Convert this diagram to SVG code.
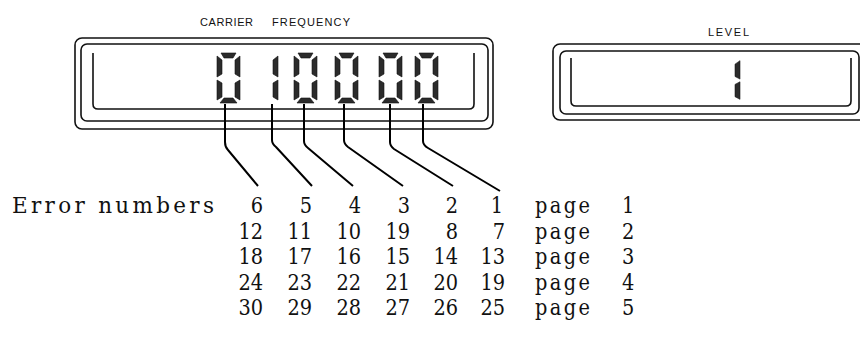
<svg xmlns="http://www.w3.org/2000/svg" xmlns:xlink="http://www.w3.org/1999/xlink" width="860" height="347" viewBox="0 0 860 347">
<style>
.frame{fill:none;stroke:#111;stroke-width:1.6}
.seg{fill:#2b2b2b;stroke:#111;stroke-width:0.6}
.lbl{font-family:"Liberation Sans",Arial,sans-serif;font-size:11px;fill:#111}
.mono{font-family:"DejaVu Serif","Liberation Serif",serif;font-size:21.5px;fill:#111}
.num{font-family:"DejaVu Serif Condensed","DejaVu Serif","Liberation Serif",serif;font-stretch:condensed;font-size:21.5px;fill:#111;text-anchor:end}
.pg{font-family:"DejaVu Serif Condensed","DejaVu Serif","Liberation Serif",serif;font-stretch:condensed;font-size:21.5px;fill:#111}
.conn{fill:none;stroke:#000;stroke-width:2;stroke-linejoin:round}
</style>
<defs>
<g id="segUR"><polygon class="seg" points="23,3 23,24 18,21 18,7"/></g>
<g id="segLR"><polygon class="seg" points="23,27 23,47 18,44 18,30"/></g>
<g id="d0">
<polygon class="seg" points="4,0 19,0 16,5 7,5"/>
<polygon class="seg" points="0,3 5,7 5,21 0,24"/>
<use xlink:href="#segUR"/>
<polygon class="seg" points="0,27 5,30 5,44 0,47"/>
<use xlink:href="#segLR"/>
<polygon class="seg" points="7,45 16,45 20,50 3,50"/>
</g>
<g id="d1"><use xlink:href="#segUR"/><use xlink:href="#segLR"/></g>
</defs>

<g id="carrier-frequency">
<text class="lbl" y="26"><tspan x="200" textLength="53" lengthAdjust="spacing">CARRIER</tspan><tspan x="272" textLength="78" lengthAdjust="spacing">FREQUENCY</tspan></text>
<rect class="frame" x="75" y="38" width="418" height="91" rx="7"/>
<rect class="frame" x="81" y="44" width="407" height="77" rx="6"/>
<path class="frame" d="M93,53 V104 Q93,109 98,109 H469 Q474,109 474,104 V53"/>
<use xlink:href="#d0" x="217" y="53"/>
<use xlink:href="#d1" x="255" y="53"/>
<use xlink:href="#d0" x="294" y="53"/>
<use xlink:href="#d0" x="335" y="53"/>
<use xlink:href="#d0" x="379" y="53"/>
<use xlink:href="#d0" x="415" y="53"/>
</g>

<g id="level">
<text class="lbl" x="708" y="36" textLength="41" lengthAdjust="spacing">LEVEL</text>
<rect class="frame" x="553" y="44" width="330" height="76" rx="7"/>
<rect class="frame" x="560" y="51" width="299" height="63" rx="6"/>
<path class="frame" d="M571,58 V101 Q571,106 576,106 H846 Q851,106 851,101 V58"/>
<g transform="translate(717,58) scale(1,0.88)"><use xlink:href="#d1"/></g>
</g>

<g id="connectors">
<path class="conn" d="M225,104 V142 Q225,147 228,150 L258,186"/>
<path class="conn" d="M272,104 V140 Q272,144 276,147 L312,186"/>
<path class="conn" d="M304,104 V141 Q304,145 308,148 L353,186"/>
<path class="conn" d="M344,104 V140 Q344,144 348,147 L403,186"/>
<path class="conn" d="M390,104 V142 Q390,146 394,149 L453,186"/>
<path class="conn" d="M423,104 V141 Q423,145 428,148 L500,191"/>
</g>

<g id="error-table">
<text class="mono" x="12" y="213" textLength="202" lengthAdjust="spacing">Error numbers</text>
<g id="row1">
<text class="num" x="263" y="213">6</text><text class="num" x="312" y="213">5</text><text class="num" x="361" y="213">4</text><text class="num" x="410" y="213">3</text><text class="num" x="458" y="213">2</text><text class="num" x="503" y="213">1</text>
<text class="pg" x="535" y="213"><tspan textLength="55" lengthAdjust="spacing">page</tspan> <tspan x="622">1</tspan></text>
</g>
<g id="row2">
<text class="num" x="263" y="238.5">12</text><text class="num" x="312" y="238.5">11</text><text class="num" x="361" y="238.5">10</text><text class="num" x="410" y="238.5">19</text><text class="num" x="458" y="238.5">8</text><text class="num" x="505" y="238.5">7</text>
<text class="pg" x="535" y="238.5"><tspan textLength="55" lengthAdjust="spacing">page</tspan> <tspan x="622">2</tspan></text>
</g>
<g id="row3">
<text class="num" x="263" y="264">18</text><text class="num" x="312" y="264">17</text><text class="num" x="361" y="264">16</text><text class="num" x="410" y="264">15</text><text class="num" x="458" y="264">14</text><text class="num" x="505" y="264">13</text>
<text class="pg" x="535" y="264"><tspan textLength="55" lengthAdjust="spacing">page</tspan> <tspan x="622">3</tspan></text>
</g>
<g id="row4">
<text class="num" x="263" y="289.5">24</text><text class="num" x="312" y="289.5">23</text><text class="num" x="361" y="289.5">22</text><text class="num" x="410" y="289.5">21</text><text class="num" x="458" y="289.5">20</text><text class="num" x="505" y="289.5">19</text>
<text class="pg" x="535" y="289.5"><tspan textLength="55" lengthAdjust="spacing">page</tspan> <tspan x="622">4</tspan></text>
</g>
<g id="row5">
<text class="num" x="263" y="315">30</text><text class="num" x="312" y="315">29</text><text class="num" x="361" y="315">28</text><text class="num" x="410" y="315">27</text><text class="num" x="458" y="315">26</text><text class="num" x="505" y="315">25</text>
<text class="pg" x="535" y="315"><tspan textLength="55" lengthAdjust="spacing">page</tspan> <tspan x="622">5</tspan></text>
</g>
</g>
</svg>
